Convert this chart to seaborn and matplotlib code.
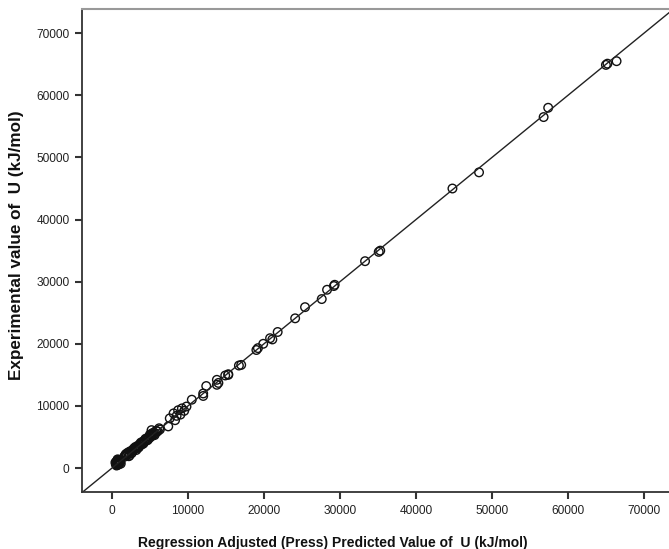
import matplotlib
matplotlib.use("Agg")
import matplotlib.pyplot as plt
import seaborn as sns
import numpy as np
import pandas as pd

# Predicted (x) and experimental (y) values of U (kJ/mol)
predicted = [
    500, 600, 700, 800, 900, 650, 750, 850, 1000, 950, 550, 700, 1100, 800,
    600, 900, 1050, 750, 450, 1150,
    1600, 1800, 2000, 2100, 2300, 2400, 2500, 2700, 2800, 3000, 3100, 3300,
    3400, 3600, 3700, 3900, 4000, 4200, 4300, 4500, 4600, 4800, 4900, 5100,
    5200, 5400, 5500, 5700, 5800, 6000, 6200, 5200, 6300, 2200, 2600, 3500,
    4400, 5000, 1900, 2300, 2900, 3200, 3800, 4100, 4700, 5300, 5600, 1700,
    7400, 7600, 8100, 8300, 8700, 8500, 9000, 9200, 9800, 9500, 10500, 12000,
    12000, 12400, 13800, 14000, 13800, 14900, 15300, 15300, 16700, 17000,
    19000, 19200, 19900, 20800, 21100, 21800, 24100, 25400, 27600, 28300,
    29200, 29300, 33300, 35100, 35300, 44800, 48300, 56800, 57400, 65000,
    65200, 66400,
]
experimental = [
    600, 900, 700, 1000, 800, 1100, 500, 1200, 900, 1100, 800, 1300, 1000, 650,
    400, 600, 1300, 1400, 900, 700,
    1800, 2200, 2100, 2500, 2300, 2700, 2600, 2900, 2800, 3100, 3400, 3200,
    3600, 3500, 3900, 3800, 4200, 4100, 4500, 4400, 4800, 4700, 5100, 5000,
    5400, 5300, 5700, 5600, 6000, 5900, 6400, 6100, 6200, 1900, 2400, 3300,
    4700, 5400, 2300, 2000, 3200, 2900, 4100, 3900, 4500, 5600, 5300, 2000,
    6700, 8000, 8800, 7700, 9300, 8400, 8600, 9600, 9900, 9200, 11000, 12000,
    11600, 13200, 13400, 13700, 14200, 14900, 15100, 15000, 16500, 16600,
    19000, 19300, 20000, 20900, 20700, 21900, 24100, 25900, 27200, 28700,
    29300, 29500, 33300, 34800, 35000, 45000, 47600, 56500, 58000, 64900,
    65100, 65500,
]
fit_x = [-4000, 74000]
fit_y = [-4000, 74000]
tick_values = [0, 10000, 20000, 30000, 40000, 50000, 60000, 70000]
x_label = "Regression Adjusted (Press) Predicted Value of  U (kJ/mol)"
y_label = "Experimental value of  U (kJ/mol)"

df = pd.DataFrame({"pred": predicted, "exp": experimental})
fit = pd.DataFrame({"x": fit_x, "y": fit_y})

sns.set_style("white")
plt.rcParams["font.family"] = ["Liberation Sans", "DejaVu Sans"]

fig = plt.figure(figsize=(6.69, 5.49), dpi=100)
ax = fig.add_axes([82 / 669, 1 - 492 / 549, 1 - 82 / 669, (492 - 9) / 549])

sns.lineplot(data=fit, x="x", y="y", ax=ax, color="#222222", linewidth=1.0)
sns.scatterplot(data=df, x="pred", y="exp", ax=ax, marker="o", s=38,
                facecolor="none", edgecolor="#111111", linewidth=1.0)

ax.set_xlim(-3950, 73300)
ax.set_ylim(-3860, 73900)
ax.set_xticks(tick_values)
ax.set_yticks(tick_values)
ax.set_xticklabels([str(v) for v in tick_values])
ax.set_yticklabels([str(v) for v in tick_values])
ax.tick_params(axis="both", direction="out", length=5, width=1.5,
               color="#333333", labelsize=8.6, labelcolor="#222222", pad=4,
               bottom=True, left=True)
ax.spines["left"].set_color("#333333")
ax.spines["bottom"].set_color("#333333")
ax.spines["left"].set_linewidth(1.3)
ax.spines["bottom"].set_linewidth(1.3)
ax.spines["top"].set_color("#999999")
ax.spines["top"].set_linewidth(1.5)
ax.spines["right"].set_visible(False)
ax.set_xlabel("")
ax.set_ylabel("")

fig.text(333 / 669, 1 - 543 / 549, x_label, ha="center", va="center",
         fontsize=10, fontweight="bold", color="#111111")
fig.text(17 / 669, 1 - 245 / 549, y_label, ha="center", va="center",
         rotation=90, fontsize=12.3, fontweight="bold", color="#111111")

fig.savefig("out.png", dpi=100, facecolor="white")
